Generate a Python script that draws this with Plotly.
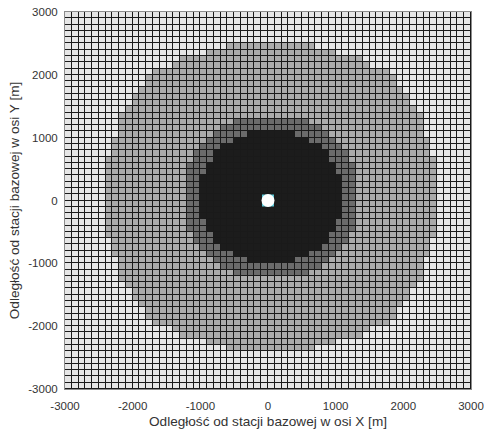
import numpy as np
import plotly.graph_objects as go

# Grid definition (100 m cells from -3000 to 3000 m)
cell_size = 100
axis_min, axis_max = -3000, 3000
tick_values = [-3000, -2000, -1000, 0, 1000, 2000, 3000]
tick_labels = ["-3000", "-2000", "-1000", "0", "1000", "2000", "3000"]

# Boundaries: for each row offset b from the station
# (in cells), the largest column offset a that still belongs to each zone.
black_extent = [10, 10, 10, 10, 9, 9, 8, 8, 7, 5, 3] + [-1] * 20
dark_extent = [12, 12, 12, 12, 12, 12, 11, 11, 10, 9, 8, 7, 5] + [-1] * 18
medium_extent = ([24] * 7 + [23] * 3 + [22] * 4 + [21] + [20] * 2 + [19]
                 + [18] * 2 + [17, 14, 13, 9, 6] + [-1] * 6)

zone_colors = ["#e6e6e6", "#ababab", "#6b6b6b", "#1c1c1c"]

station_x = [0]
station_y = [0]

n = int((axis_max - axis_min) / cell_size)
half = n // 2
z = []
for rb in range(n):
    b = abs(rb - half)
    row = []
    for c in range(n):
        a = abs(c - half)
        if a <= black_extent[b]:
            row.append(3)
        elif a <= dark_extent[b]:
            row.append(2)
        elif a <= medium_extent[b]:
            row.append(1)
        else:
            row.append(0)
    z.append(row)

colorscale = [[0.0, zone_colors[0]], [1 / 3, zone_colors[1]],
              [2 / 3, zone_colors[2]], [1.0, zone_colors[3]]]

fig = go.Figure()
fig.add_trace(go.Heatmap(
    z=z, x0=axis_min + cell_size / 2, dx=cell_size,
    y0=axis_min + cell_size / 2, dy=cell_size,
    zmin=0, zmax=3, colorscale=colorscale, showscale=False,
    xgap=1, ygap=1, hoverinfo="skip"))
fig.add_trace(go.Scatter(
    x=station_x, y=station_y, mode="markers",
    marker=dict(symbol="square", size=12, color="#5cc8d6"),
    showlegend=False, hoverinfo="skip"))
fig.add_trace(go.Scatter(
    x=station_x, y=station_y, mode="markers",
    marker=dict(symbol="circle", size=13, color="#ffffff"),
    showlegend=False, hoverinfo="skip"))

font_family = "Liberation Sans, Arial, Helvetica, sans-serif"
text_color = "#333333"
axis_common = dict(
    range=[axis_min, axis_max], tickvals=tick_values, ticktext=tick_labels,
    showgrid=False, zeroline=False, showline=True, mirror=True,
    linecolor="#8c8c8c", linewidth=1, ticks="",
    tickfont=dict(family=font_family, size=11.5, color=text_color),
    fixedrange=True,
)
fig.update_xaxes(**axis_common, ticklabelstandoff=6,
                 title=dict(text="Odległość od stacji bazowej w osi X [m]",
                            font=dict(family=font_family, size=13.6, color=text_color),
                            standoff=5))
fig.update_yaxes(**axis_common, ticklabelstandoff=4,
                 title=dict(text="Odległość od stacji bazowej w osi Y [m]",
                            font=dict(family=font_family, size=13.6, color=text_color),
                            standoff=5))
fig.update_layout(
    width=484, height=432,
    margin=dict(l=65, r=13, t=12, b=43, autoexpand=False),
    paper_bgcolor="#ffffff", plot_bgcolor="#1a1a1a",
    showlegend=False,
)
fig.write_html("out.html")
